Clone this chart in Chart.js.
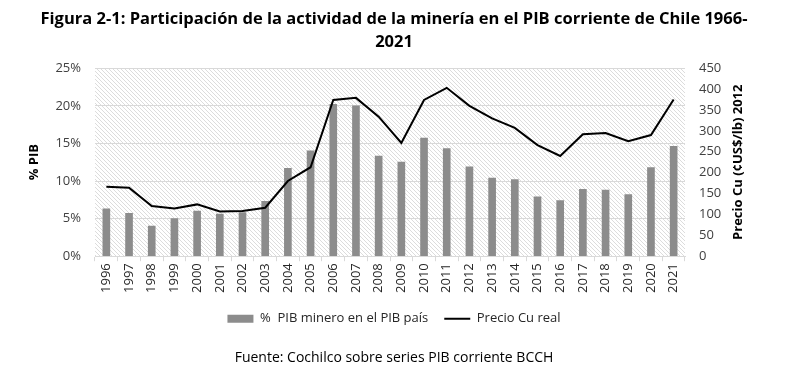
<!DOCTYPE html>
<html>
<head>
<meta charset="utf-8">
<script src="https://cdn.jsdelivr.net/npm/chart.js@4.4.1/dist/chart.umd.min.js"></script>
<style>
  body { margin: 0; background: #fff; }
  #wrap { width: 788px; height: 366px; }
</style>
</head>
<body>
<div id="wrap"><canvas id="mineriaChart" width="788" height="366"></canvas></div>
<script>
// datos
const years = ["1996", "1997", "1998", "1999", "2000", "2001", "2002", "2003", "2004",
  "2005", "2006", "2007", "2008", "2009", "2010", "2011", "2012", "2013", "2014",
  "2015", "2016", "2017", "2018", "2019", "2020", "2021"];
const pibMinero = [6.3, 5.7, 4.0, 5.0, 6.0, 5.6, 5.8, 7.3, 11.7, 14.0, 20.2, 20.0, 13.3,
  12.5, 15.7, 14.3, 11.9, 10.4, 10.2, 7.9, 7.4, 8.9, 8.8, 8.2, 11.8, 14.6];
const precioCu = [166, 164, 120, 114, 124, 107, 108, 116, 180, 213, 374, 379, 334,
  271, 374, 403, 360, 330, 307, 266, 240, 292, 295, 275, 290, 375];
const pctTicks = [0, 5, 10, 15, 20, 25];
const cuTicks = [0, 50, 100, 150, 200, 250, 300, 350, 400, 450];

const FONT = "'Open Sans', sans-serif";

// fondo rayado del area del grafico
function makeHatch() {
  const c = document.createElement("canvas");
  c.width = 4;
  c.height = 4;
  const g = c.getContext("2d");
  g.fillStyle = "#ffffff";
  g.fillRect(0, 0, 4, 4);
  g.strokeStyle = "#dcdcdc";
  g.lineWidth = 1;
  g.beginPath();
  g.moveTo(-1, -1);
  g.lineTo(5, 5);
  g.moveTo(-1, 3);
  g.lineTo(1, 5);
  g.moveTo(3, -1);
  g.lineTo(5, 1);
  g.stroke();
  return g.createPattern(c, "repeat");
}

const hatchPlugin = {
  id: "hatch",
  beforeDraw(chart) {
    const { ctx, chartArea: a } = chart;
    ctx.save();
    ctx.fillStyle = makeHatch();
    ctx.fillRect(a.left, a.top, a.right - a.left, a.bottom - a.top);
    ctx.restore();
  },
};

// titulos de los ejes (ambos leen de abajo hacia arriba)
const axisTitles = {
  id: "axisTitles",
  afterDraw(chart) {
    const { ctx, chartArea: a } = chart;
    const midY = (a.top + a.bottom) / 2;
    ctx.save();
    ctx.fillStyle = "#000";
    ctx.font = "bold 13px " + FONT;
    ctx.textAlign = "center";
    ctx.textBaseline = "middle";
    ctx.translate(34, midY);
    ctx.rotate(-Math.PI / 2);
    ctx.fillText("% PIB", 0, 0);
    ctx.restore();

    ctx.save();
    ctx.fillStyle = "#000";
    ctx.font = "bold 13px " + FONT;
    ctx.textAlign = "center";
    ctx.textBaseline = "middle";
    ctx.translate(738, midY);
    ctx.rotate(-Math.PI / 2);
    ctx.fillText("Precio Cu (¢US$/lb) 2012", 0, 0);
    ctx.restore();
  },
};

const ctx = document.getElementById("mineriaChart").getContext("2d");
new Chart(ctx, {
  type: "bar",
  data: {
    labels: years,
    datasets: [
      {
        type: "line",
        label: "Precio Cu real",
        data: precioCu,
        yAxisID: "y1",
        borderColor: "#000000",
        backgroundColor: "#000000",
        borderWidth: 2,
        pointRadius: 0,
        tension: 0,
        pointStyle: "line",
        order: 1,
      },
      {
        label: "%  PIB minero en el PIB país",
        data: pibMinero,
        yAxisID: "y",
        backgroundColor: "#8c8c8c",
        borderWidth: 0,
        barThickness: 7,
        pointStyle: "rect",
        order: 2,
      },
    ],
  },
  options: {
    responsive: false,
    animation: false,
    layout: { padding: { left: 0, right: 0, top: 0, bottom: 0 } },
    plugins: {
      title: {
        display: true,
        text: [
          "Figura 2-1: Participación de la actividad de la minería en el PIB corriente de Chile 1966-",
          "2021",
        ],
        color: "#000",
        font: { family: FONT, size: 16.5, weight: "bold", lineHeight: 1.4 },
        padding: { top: 8, bottom: 14 },
      },
      subtitle: {
        display: true,
        position: "bottom",
        text: "Fuente: Cochilco sobre series PIB corriente BCCH",
        color: "#000",
        font: { family: FONT, size: 14 },
        padding: { top: 14, bottom: 0 },
      },
      legend: {
        position: "bottom",
        reverse: true,
        labels: {
          color: "#262626",
          font: { family: FONT, size: 13 },
          usePointStyle: true,
          pointStyleWidth: 26,
          boxHeight: 8,
          padding: 16,
        },
      },
      tooltip: { enabled: false },
    },
    scales: {
      x: {
        offset: true,
        grid: {
          offset: true,
          drawOnChartArea: false,
          drawTicks: true,
          tickLength: 5,
          color: "#d9d9d9",
        },
        border: { color: "#d9d9d9" },
        ticks: {
          color: "#262626",
          font: { family: FONT, size: 13 },
          minRotation: 90,
          maxRotation: 90,
          autoSkip: false,
          padding: 2,
        },
        afterFit(scale) {
          scale.height = 40;
        },
      },
      y: {
        position: "left",
        min: 0,
        max: 25,
        afterBuildTicks(scale) {
          scale.ticks = pctTicks.map((v) => ({ value: v }));
        },
        grid: { color: "#d9d9d9", drawTicks: false },
        border: { display: false },
        ticks: {
          color: "#404040",
          font: { family: FONT, size: 13 },
          padding: 14,
          callback: (v) => v + "%",
        },
        afterFit(scale) {
          scale.width = 95;
        },
      },
      y1: {
        position: "right",
        min: 0,
        max: 450,
        afterBuildTicks(scale) {
          scale.ticks = cuTicks.map((v) => ({ value: v }));
        },
        grid: { drawOnChartArea: false, drawTicks: false },
        border: { display: false },
        ticks: {
          color: "#404040",
          font: { family: FONT, size: 13 },
          padding: 14,
        },
        afterFit(scale) {
          scale.width = 103;
        },
      },
    },
  },
  plugins: [hatchPlugin, axisTitles],
});
</script>
</body>
</html>
